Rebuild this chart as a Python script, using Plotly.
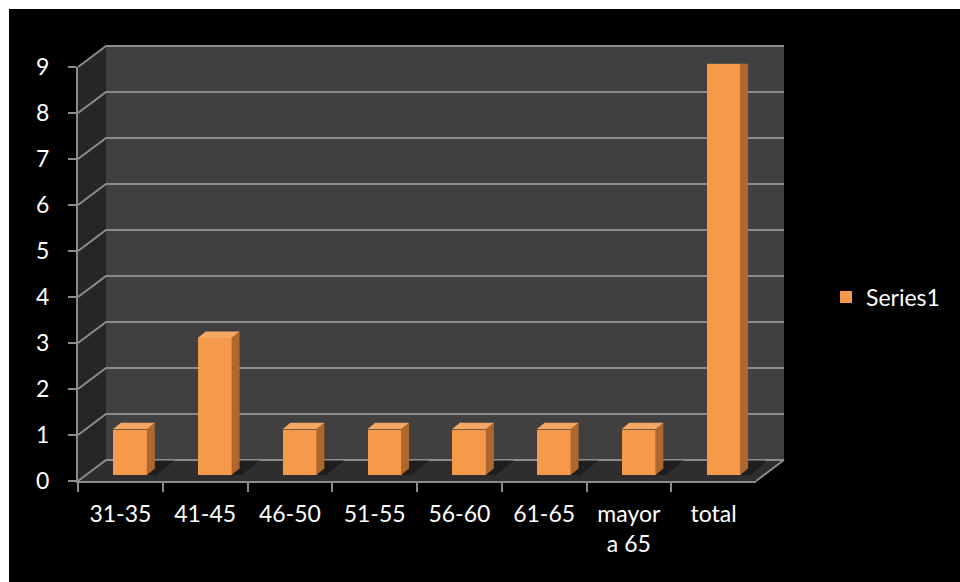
import plotly.graph_objects as go

# ---- data ----
categories = ["31-35", "41-45", "46-50", "51-55", "56-60", "61-65", "mayor<br>a 65", "total"]
values = [1, 3, 1, 1, 1, 1, 1, 9]
y_ticks = list(range(0, 10))
series_name = "Series1"

W, H = 960, 582
FONT = "Lato"
TXT = "#FFFFFF"
GRID = "#8C8C8C"
BAR_FRONT = "#F7994A"
BAR_SIDE = "#AE682D"
BAR_TOP = "#F6A862"

# ---- projection geometry (pixels) ----
Y_MAX = 9
FRONT_X0, FRONT_X1 = 78, 756          # front floor edge
FRONT_Y0, UNIT = 481, 46.0            # front baseline and px per unit
DEPTH_DX, DEPTH_DY = 28, 21           # wall depth offset
BAR_SHIFT_X, BAR_BASE, BAR_UNIT = 9.5, 475, 45.7


def px(x):
    return x / W


def py(y):
    return 1 - y / H


def front_y(v):
    return FRONT_Y0 - v * UNIT


def back_y(v):
    return front_y(v) - DEPTH_DY


def poly(points):
    return "M " + " L ".join(f"{px(a):.5f},{py(b):.5f}" for a, b in points) + " Z"


BACK_X0, BACK_X1 = FRONT_X0 + DEPTH_DX, FRONT_X1 + DEPTH_DX

shapes = []
# black chart area inside white frame
shapes.append(dict(type="rect", xref="paper", yref="paper", x0=px(9), x1=1, y0=0, y1=py(9),
                   fillcolor="#000000", line=dict(width=0), layer="below"))
# back wall
shapes.append(dict(type="rect", xref="paper", yref="paper",
                   x0=px(BACK_X0), x1=px(BACK_X1), y0=py(back_y(0)), y1=py(back_y(Y_MAX)),
                   fillcolor="#404040", line=dict(width=0), layer="below"))
# side wall
shapes.append(dict(type="path", xref="paper", yref="paper",
                   path=poly([(FRONT_X0, front_y(0)), (FRONT_X0, front_y(Y_MAX)),
                              (BACK_X0, back_y(Y_MAX)), (BACK_X0, back_y(0))]),
                   fillcolor="#262626", line=dict(width=0), layer="below"))
# floor
shapes.append(dict(type="path", xref="paper", yref="paper",
                   path=poly([(FRONT_X0, front_y(0)), (FRONT_X1, front_y(0)),
                              (BACK_X1, back_y(0)), (BACK_X0, back_y(0))]),
                   fillcolor="#2E2E2E", line=dict(width=0), layer="below"))
# gridlines: diagonal on side wall + horizontal on back wall
for v in y_ticks:
    shapes.append(dict(type="path", xref="paper", yref="paper",
                       path=f"M {px(FRONT_X0):.5f},{py(front_y(v)):.5f} L {px(BACK_X0):.5f},{py(back_y(v)):.5f} "
                            f"L {px(BACK_X1):.5f},{py(back_y(v)):.5f}",
                       line=dict(color=GRID, width=2), layer="below"))
# right floor edge
shapes.append(dict(type="line", xref="paper", yref="paper",
                   x0=px(FRONT_X1), y0=py(front_y(0)), x1=px(BACK_X1), y1=py(back_y(0)),
                   line=dict(color=GRID, width=2), layer="below"))

fig = go.Figure()

# front axes (labels, ticks, axis lines)
fig.add_trace(go.Scatter(x=categories, y=values, mode="markers", marker=dict(opacity=0),
                         hoverinfo="skip", showlegend=False, xaxis="x", yaxis="y"))

# bar geometry in the depth plane
idx = list(range(len(values)))
BW = 0.4
cat_px = (FRONT_X1 - FRONT_X0) / len(values)
dx = 8 / cat_px
dy = 6.5 / BAR_UNIT
floor_dy = (BAR_BASE - back_y(0)) / BAR_UNIT
floor_dx = DEPTH_DX * (BAR_BASE - back_y(0)) / DEPTH_DY / cat_px

side_x, side_y, top_x, top_y, sh_x, sh_y = [], [], [], [], [], []
for i, v in zip(idx, values):
    r, l = i + BW / 2, i - BW / 2
    side_x += [r, r + dx, r + dx, r, r, None]
    side_y += [0, dy, v + dy, v, 0, None]
    top_x += [l, r, r + dx, l + dx, l, None]
    top_y += [v, v, v + dy, v + dy, v, None]
    sh_x += [l - 0.03, r + 0.1, r + 0.1 + floor_dx, l + floor_dx, l - 0.03, None]
    sh_y += [-0.03, -0.03, floor_dy, floor_dy, -0.03, None]

# floor shadows (own layer beneath the bars)
fig.add_trace(go.Scatter(x=sh_x, y=sh_y, mode="lines", fill="toself", fillcolor="rgba(0,0,0,0.35)",
                         line=dict(width=0, color="rgba(0,0,0,0)"), hoverinfo="skip", showlegend=False,
                         xaxis="x2", yaxis="y2"))
# bar side and top faces
fig.add_trace(go.Scatter(x=side_x, y=side_y, mode="lines", fill="toself", fillcolor=BAR_SIDE,
                         line=dict(width=0, color=BAR_SIDE), hoverinfo="skip", showlegend=False,
                         xaxis="x3", yaxis="y3"))
fig.add_trace(go.Scatter(x=top_x, y=top_y, mode="lines", fill="toself", fillcolor=BAR_TOP,
                         line=dict(width=0, color=BAR_TOP), hoverinfo="skip", showlegend=False,
                         xaxis="x3", yaxis="y3"))
# bar front faces
fig.add_trace(go.Bar(x=idx, y=values, width=BW, name=series_name,
                     marker=dict(color=BAR_FRONT, line=dict(width=0)),
                     showlegend=True, xaxis="x3", yaxis="y3"))

bar_x = dict(domain=[px(FRONT_X0 + BAR_SHIFT_X), px(FRONT_X1 + BAR_SHIFT_X)],
             range=[-0.5, len(values) - 0.5], visible=False, fixedrange=True, automargin=False)
bar_y = dict(domain=[py(BAR_BASE), py(BAR_BASE - Y_MAX * BAR_UNIT)], range=[0, Y_MAX],
             visible=False, fixedrange=True, automargin=False)

fig.update_layout(
    width=W, height=H,
    margin=dict(l=0, r=0, t=0, b=0, autoexpand=False),
    paper_bgcolor="#FFFFFF",
    plot_bgcolor="rgba(0,0,0,0)",
    font=dict(family=FONT, color=TXT, size=23),
    shapes=shapes,
    showlegend=True,
    legend=dict(x=px(826), y=py(297), xanchor="left", yanchor="middle",
                bgcolor="rgba(0,0,0,0)", font=dict(size=23, color=TXT, family=FONT)),
    xaxis=dict(domain=[px(FRONT_X0), px(FRONT_X1)], type="category", categoryorder="array",
               categoryarray=categories, range=[-0.5, len(categories) - 0.5],
               tickson="boundaries", ticks="outside", ticklen=9, tickwidth=2, tickcolor=GRID,
               ticklabelstandoff=11,
               showline=True, linecolor=GRID, linewidth=2, showgrid=False, zeroline=False,
               tickfont=dict(size=23, color=TXT, family=FONT), anchor="y", fixedrange=True,
               automargin=False),
    yaxis=dict(domain=[py(front_y(0)), py(front_y(Y_MAX))], range=[0, Y_MAX],
               tickvals=y_ticks, ticks="outside", ticklen=8, tickwidth=2, tickcolor=GRID,
               ticklabelstandoff=14,
               showline=True, linecolor=GRID, linewidth=2, showgrid=False, zeroline=False,
               tickfont=dict(size=23, color=TXT, family=FONT), anchor="x", fixedrange=True,
               automargin=False),
    xaxis2=dict(bar_x, anchor="y2"),
    yaxis2=dict(bar_y, anchor="x2"),
    xaxis3=dict(bar_x, anchor="y3"),
    yaxis3=dict(bar_y, anchor="x3"),
    bargap=0,
)

fig.write_html("out.html")
